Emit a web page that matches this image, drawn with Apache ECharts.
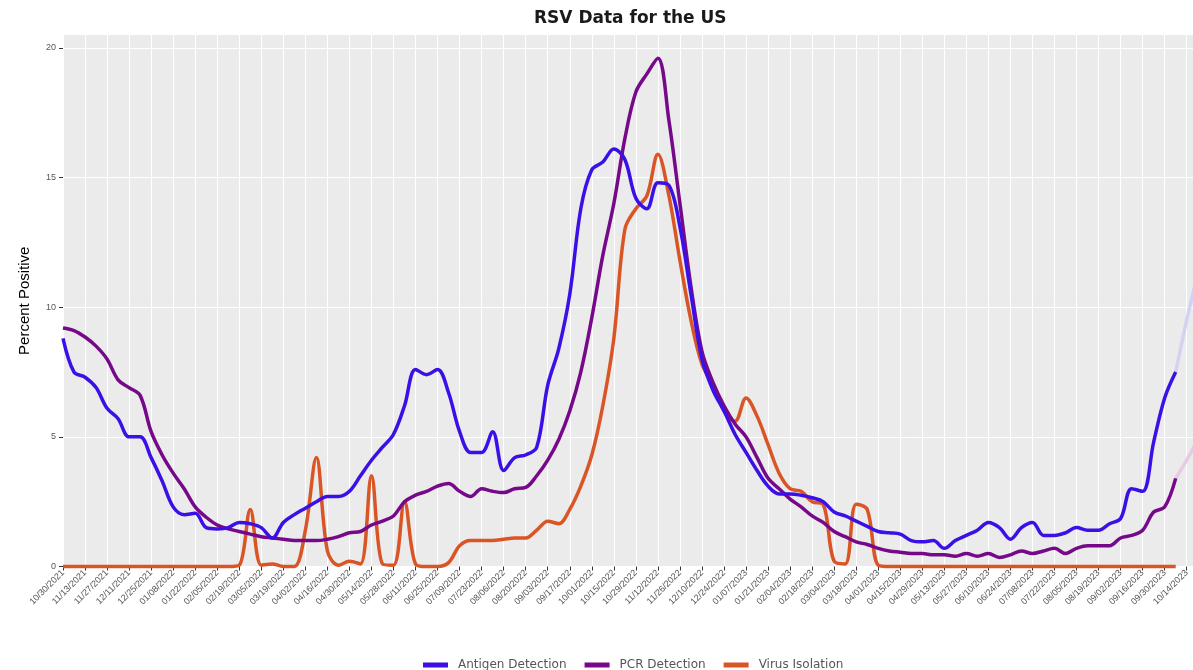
<!DOCTYPE html>
<html>
<head>
<meta charset="utf-8">
<script src="https://cdn.jsdelivr.net/npm/echarts@6/dist/echarts.min.js"></script>
<style>html,body{margin:0;padding:0;background:#fff}#c{width:1193px;height:670px}</style>
</head>
<body>
<div id="c"></div>
<script>
const dates = ["10/30/2021","11/06/2021","11/13/2021","11/20/2021","11/27/2021","12/04/2021","12/11/2021","12/18/2021","12/25/2021",
"01/01/2022","01/08/2022","01/15/2022","01/22/2022","01/29/2022","02/05/2022","02/12/2022","02/19/2022","02/26/2022",
"03/05/2022","03/12/2022","03/19/2022","03/26/2022","04/02/2022","04/09/2022","04/16/2022","04/23/2022","04/30/2022",
"05/07/2022","05/14/2022","05/21/2022","05/28/2022","06/04/2022","06/11/2022","06/18/2022","06/25/2022",
"07/02/2022","07/09/2022","07/16/2022","07/23/2022","07/30/2022","08/06/2022","08/13/2022","08/20/2022","08/27/2022",
"09/03/2022","09/10/2022","09/17/2022","09/24/2022","10/01/2022","10/08/2022","10/15/2022","10/22/2022","10/29/2022",
"11/05/2022","11/12/2022","11/19/2022","11/26/2022","12/03/2022","12/10/2022","12/17/2022","12/24/2022","12/31/2022",
"01/07/2023","01/14/2023","01/21/2023","01/28/2023","02/04/2023","02/11/2023","02/18/2023","02/25/2023",
"03/04/2023","03/11/2023","03/18/2023","03/25/2023","04/01/2023","04/08/2023","04/15/2023","04/22/2023","04/29/2023",
"05/06/2023","05/13/2023","05/20/2023","05/27/2023","06/03/2023","06/10/2023","06/17/2023","06/24/2023",
"07/01/2023","07/08/2023","07/15/2023","07/22/2023","07/29/2023","08/05/2023","08/12/2023","08/19/2023","08/26/2023",
"09/02/2023","09/09/2023","09/16/2023","09/23/2023","09/30/2023","10/07/2023"];

const tickLabels = ["10/30/2021","11/13/2021","11/27/2021","12/11/2021","12/25/2021","01/08/2022","01/22/2022","02/05/2022",
"02/19/2022","03/05/2022","03/19/2022","04/02/2022","04/16/2022","04/30/2022","05/14/2022","05/28/2022","06/11/2022",
"06/25/2022","07/09/2022","07/23/2022","08/06/2022","08/20/2022","09/03/2022","09/17/2022","10/01/2022","10/15/2022",
"10/29/2022","11/12/2022","11/26/2022","12/10/2022","12/24/2022","01/07/2023","01/21/2023","02/04/2023","02/18/2023",
"03/04/2023","03/18/2023","04/01/2023","04/15/2023","04/29/2023","05/13/2023","05/27/2023","06/10/2023","06/24/2023",
"07/08/2023","07/22/2023","08/05/2023","08/19/2023","09/02/2023","09/16/2023","09/30/2023","10/14/2023"];

const yTicks = [0, 5, 10, 15, 20];

const antigen = [8.8,7.5,7.3,6.9,6.1,5.7,5.0,5.0,4.2,3.3,
2.3,2.0,2.05,1.5,1.45,1.5,1.7,1.65,1.5,1.1,
1.7,2.0,2.25,2.5,2.7,2.7,2.9,3.5,4.1,4.6,
5.1,6.2,7.6,7.4,7.6,6.7,5.2,4.4,4.4,5.2,
3.7,4.2,4.3,4.6,7.0,8.4,10.5,13.8,15.3,15.6,
16.1,15.7,14.2,13.8,14.8,14.7,13.1,10.5,8.0,6.8,
6.0,5.1,4.4,3.7,3.1,2.8,2.8,2.75,2.65,2.5,
2.1,1.95,1.75,1.55,1.35,1.3,1.25,1.0,0.95,1.0,
0.7,1.0,1.2,1.4,1.7,1.5,1.05,1.5,1.7,1.2,
1.2,1.3,1.5,1.4,1.4,1.65,1.85,3.0,2.9,4.8,
6.5,7.5];

const pcr = [9.2,9.1,8.85,8.5,8.0,7.2,6.9,6.6,5.2,4.3,
3.6,3.0,2.3,1.9,1.6,1.45,1.35,1.25,1.15,1.1,
1.05,1.0,1.0,1.0,1.05,1.15,1.3,1.35,1.6,1.75,
1.95,2.5,2.75,2.9,3.1,3.2,2.9,2.7,3.0,2.9,
2.85,3.0,3.05,3.5,4.1,4.9,6.0,7.5,9.6,12.0,
14.0,16.5,18.3,19.0,19.6,17.2,14.0,10.8,8.3,7.1,
6.2,5.5,5.0,4.2,3.4,3.0,2.6,2.3,1.95,1.7,
1.35,1.15,0.95,0.85,0.7,0.6,0.55,0.5,0.5,0.45,
0.45,0.4,0.5,0.4,0.5,0.35,0.45,0.6,0.5,0.6,
0.7,0.5,0.7,0.8,0.8,0.8,1.1,1.2,1.4,2.1,
2.3,3.4];

const virus = [0,0,0,0,0,0,0,0,0,0,
0,0,0,0,0,0,0.05,2.2,0.05,0.1,
0,0,1.4,4.2,0.6,0.05,0.2,0.1,3.5,0.1,
0.05,2.5,0.1,0,0,0.15,0.8,1.0,1.0,1.0,
1.05,1.1,1.1,1.4,1.75,1.65,2.2,3.1,4.3,6.2,
8.8,13.0,13.8,14.3,15.9,14.3,11.8,9.5,7.8,7.0,
6.0,5.6,6.5,5.8,4.7,3.6,3.0,2.9,2.5,2.4,
0.2,0.1,2.4,2.2,0.05,0,0,0,0,0,
0,0,0,0,0,0,0,0,0,0,
0,0,0,0,0,0,0,0,0,0,
0,0];

const fadeDates = ["10/07/2023","10/14/2023","10/21/2023"];
const antigenFade = [7.5, 9.5, 11.3];
const pcrFade = [3.4, 4.1, 4.9];

function dayOf(s) {
  const p = s.split('/').map(Number);
  return Math.round((Date.UTC(p[2], p[0] - 1, p[1]) - Date.UTC(2021, 9, 30)) / 86400000);
}
const tickDays = tickLabels.map(dayOf);
const labelByDay = {};
tickLabels.forEach(function (t) { labelByDay[dayOf(t)] = t; });
function pairs(ds, vs) { return vs.map(function (v, i) { return [dayOf(ds[i]), v]; }); }

const C_ANT = '#3A10E6', C_PCR = '#76098A', C_VIR = '#DA5526';
const font = 'Liberation Sans, Arial, sans-serif';
const wide = 'DejaVu Sans, sans-serif';

const chart = echarts.init(document.getElementById('c'), null, { renderer: 'canvas' });
chart.setOption({
  animation: false,
  backgroundColor: '#ffffff',
  title: {
    text: 'RSV Data for the US', left: 529, top: 5,
    textStyle: { fontFamily: wide, fontSize: 17, fontWeight: 'bold', color: '#1a1a1a' }
  },
  legend: {
    data: ['Antigen Detection', 'PCR Detection', 'Virus Isolation'],
    left: 418, top: 654, itemWidth: 25, itemHeight: 5, itemGap: 18, icon: 'rect',
    textStyle: { fontFamily: wide, fontSize: 12, color: '#555555', padding: [0, 0, 0, 5] }
  },
  grid: { left: 63, right: 0, top: 35, bottom: 103.5, show: true, backgroundColor: '#EBEBEB', borderWidth: 0 },
  xAxis: {
    type: 'value', min: 0, max: 718, interval: 7,
    axisLine: { show: false },
    axisTick: { show: true, customValues: tickDays, length: 4, lineStyle: { color: '#333333' } },
    axisLabel: {
      customValues: tickDays, rotate: 45, fontSize: 9, color: '#555555', fontFamily: font, margin: 5,
      formatter: function (v) { return labelByDay[v] || ''; }
    },
    splitLine: { show: true, lineStyle: { color: '#ffffff', width: 1 } }
  },
  yAxis: {
    type: 'value', min: 0, max: 20.5, interval: 2.5,
    name: 'Percent Positive', nameLocation: 'middle', nameGap: 31, nameRotate: 90,
    nameTextStyle: { fontFamily: font, fontSize: 15, color: '#000000' },
    axisLine: { show: false },
    axisTick: { show: true, customValues: yTicks, length: 4, lineStyle: { color: '#333333' } },
    axisLabel: {
      customValues: yTicks, fontSize: 9, color: '#555555', fontFamily: font, margin: 7,
      formatter: function (v) { return yTicks.indexOf(v) >= 0 ? String(v) : ''; }
    },
    splitLine: { show: true, lineStyle: { color: '#ffffff', width: 1 } }
  },
  series: [
    { name: 'Antigen Detection (fade)', type: 'line', data: pairs(fadeDates, antigenFade), smooth: 0.3, showSymbol: false,
      lineStyle: { color: '#D6D1F3', width: 3.5 }, itemStyle: { color: '#D6D1F3' }, clip: true, z: 1 },
    { name: 'PCR Detection (fade)', type: 'line', data: pairs(fadeDates, pcrFade), smooth: 0.3, showSymbol: false,
      lineStyle: { color: '#E6CBE6', width: 3.5 }, itemStyle: { color: '#E6CBE6' }, clip: true, z: 1 },
    { name: 'Virus Isolation', type: 'line', data: pairs(dates, virus), smooth: 0.35, showSymbol: false,
      lineStyle: { color: C_VIR, width: 3.5 }, itemStyle: { color: C_VIR }, clip: false, z: 3 },
    { name: 'PCR Detection', type: 'line', data: pairs(dates, pcr), smooth: 0.35, showSymbol: false,
      lineStyle: { color: C_PCR, width: 3.5 }, itemStyle: { color: C_PCR }, clip: false, z: 4 },
    { name: 'Antigen Detection', type: 'line', data: pairs(dates, antigen), smooth: 0.35, showSymbol: false,
      lineStyle: { color: C_ANT, width: 3.5 }, itemStyle: { color: C_ANT }, clip: false, z: 5 }
  ]
});
</script>
</body>
</html>
